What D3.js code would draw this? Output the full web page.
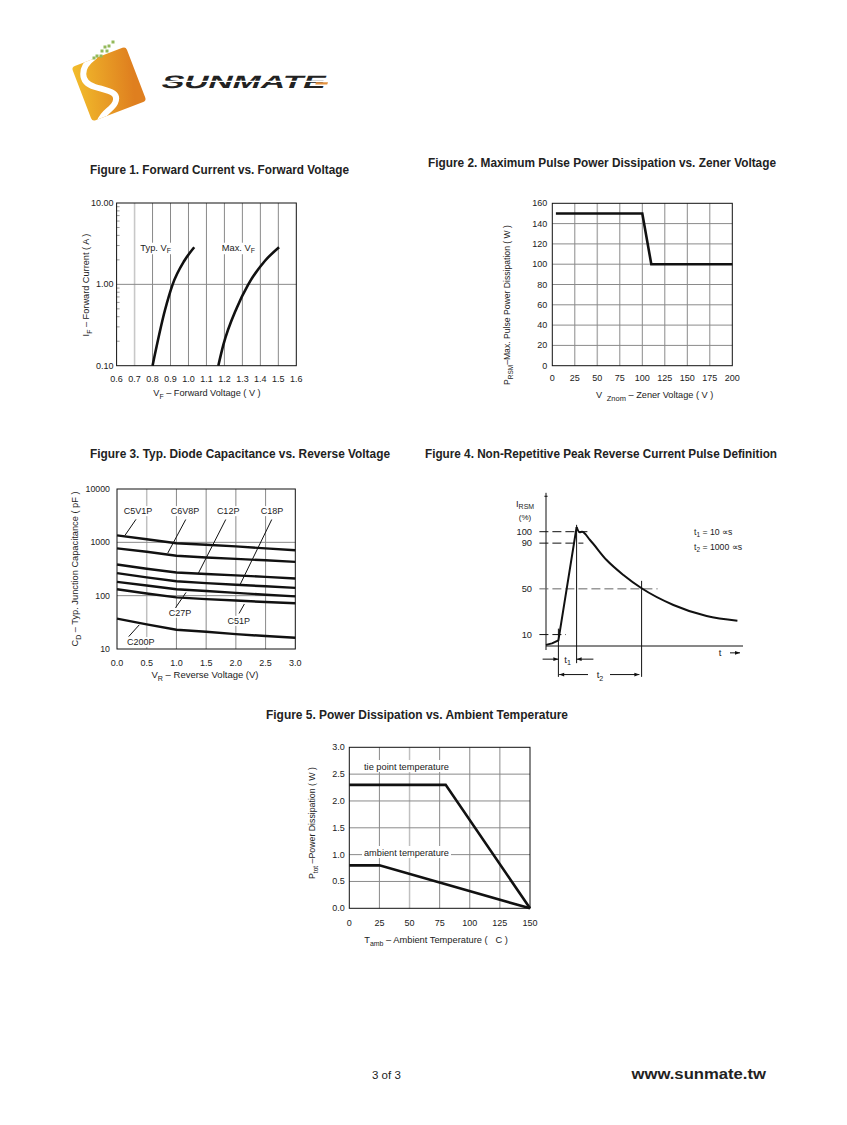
<!DOCTYPE html>
<html><head><meta charset="utf-8">
<script src="https://cdn.jsdelivr.net/npm/d3@7"></script>
<style>
body{margin:0;background:#fff}
svg{display:block}
text{font-family:"Liberation Sans",Arial,sans-serif;fill:#222}
</style>
</head><body>
<svg id="c" width="847" height="1125"></svg>
<script>
// ---------------- DATA ----------------
// Figure 1
const fig1XTicks = [0.6,0.7,0.8,0.9,1.0,1.1,1.2,1.3,1.4,1.5,1.6];
const fig1YTicks = [0.1,1,10];
const fig1YLabels = ["0.10","1.00","10.00"];
const fig1TypV = [0.80,0.869,0.912,0.977,1.032];
const fig1TypI = [0.10,0.48,1.00,1.95,2.86];
const fig1MaxV = [1.166,1.194,1.268,1.333,1.426,1.504];
const fig1MaxI = [0.10,0.18,0.51,1.00,1.95,2.86];
// Figure 2
const fig2XTicks = [0,25,50,75,100,125,150,175,200];
const fig2YTicks = [0,20,40,60,80,100,120,140,160];
const fig2V = [4,100,110,200];
const fig2P = [150,150,100,100];
// Figure 3
const fig3XTicks = [0.0,0.5,1.0,1.5,2.0,2.5,3.0];
const fig3YTicks = [10,100,1000,10000];
const fig3VR = [0.0,0.5,1.0,1.5,2.0,2.5,3.0];
const fig3C5V1P = [1350,1140,960,900,840,770,710];
const fig3C6V8P = [770,665,560,520,490,460,430];
const fig3C12P  = [385,320,272,255,240,225,210];
const fig3C18P  = [264,220,186,172,160,150,140];
const fig3C27P  = [181,155,132,122,113,104,97];
const fig3C51P  = [132,110,93,86,81,76,72];
const fig3C200P = [37,29,23,21,19,17.5,16.3];
const fig3Names = ["C5V1P","C6V8P","C12P","C18P","C27P","C51P","C200P"];
// label positions (VR, pF) and leader lines [VR1,C1,VR2,C2]
const fig3LabelVR = [0.354,1.145,1.87,2.61,1.06,2.05,0.40];
const fig3LabelC  = [3845,3845,3845,3845,47.8,33.7,13.5];
const fig3Leaders = [[0.32,2700,0.135,1355],[1.157,2680,0.854,628],[1.83,2680,1.369,264],
                     [2.604,2680,2.071,161],[0.976,57.5,1.162,115],[2.054,46.4,2.143,69.7],[0.197,17.1,0.375,28.4]];
// Figure 4 (time in arbitrary units, current in %)
const fig4Ticks = [100,90,50,10];
const fig4RiseT = [0,3,6.2,15.3];
const fig4RiseI = [1,2.3,5,104];
const fig4DecayT = [15.3,16.8,18,22,30.3,38.7,47.8,63.7,80.3,95.7];
const fig4DecayI = [104,99.5,100,92.7,75.2,62.1,50.5,35.9,26.2,22.1];
// Figure 5
const fig5XTicks = [0,25,50,75,100,125,150];
const fig5YTicks = [0,0.5,1.0,1.5,2.0,2.5,3.0];
const fig5TieT = [0,80,150];
const fig5TieP = [2.3,2.3,0];
const fig5AmbT = [0,25,150];
const fig5AmbP = [0.8,0.8,0];

// ---------------- DRAW ----------------
const svg = d3.select("#c");
svg.append("rect").attr("width",847).attr("height",1125).attr("fill","#fff");

function txt(g,x,y,s,opt={}){
  const t = g.append("text").attr("x",x).attr("y",y).text(s)
    .attr("font-size",opt.size||9).attr("text-anchor",opt.anchor||"start");
  if(opt.bold) t.attr("font-weight","bold");
  if(opt.len) t.attr("textLength",opt.len).attr("lengthAdjust","spacingAndGlyphs");
  if(opt.db) t.attr("dominant-baseline",opt.db);
  return t;
}
function subText(g,x,y,parts,opt={}){
  const t = g.append("text").attr("x",x).attr("y",y).attr("font-size",opt.size||9)
    .attr("text-anchor",opt.anchor||"middle");
  if(opt.rotate) t.attr("transform",`rotate(-90,${x},${y})`);
  if(opt.db) t.attr("dominant-baseline",opt.db);
  if(opt.len) t.attr("textLength",opt.len).attr("lengthAdjust","spacingAndGlyphs");
  let shifted=false;
  parts.forEach(([s,sub])=>{
    const ts = t.append("tspan").text(s);
    if(sub && !shifted){ts.attr("dy",2.5).attr("font-size",(opt.size||9)*0.75);shifted=true;}
    else if(sub){ts.attr("font-size",(opt.size||9)*0.75);}
    else if(!sub && shifted){ts.attr("dy",-2.5);shifted=false;}
  });
  return t;
}
function bg(g,t,pad){
  const b = t.node().getBBox();
  g.insert("rect",()=>t.node()).attr("x",b.x-pad).attr("y",b.y).attr("width",b.width+2*pad).attr("height",b.height).attr("fill","#fff");
}
function title(x,y,s,len){ txt(svg,x,y,s,{size:12,bold:true,len:len}); }

// ---------- Logo ----------
(function(){
  const g = svg.append("g");
  const defs = svg.append("defs");
  const gr = defs.append("linearGradient").attr("id","lg").attr("x1","0").attr("y1","0").attr("x2","1").attr("y2","0.3");
  gr.append("stop").attr("offset","0").attr("stop-color","#f2bd2c");
  gr.append("stop").attr("offset","1").attr("stop-color","#df7f1f");
  const sq = "translate(109,84) rotate(-21)";
  defs.append("clipPath").attr("id","lc").append("rect").attr("x",-29).attr("y",-29).attr("width",58).attr("height",58).attr("rx",3.5)
    .attr("transform",sq);
  g.append("rect").attr("x",-29).attr("y",-29).attr("width",58).attr("height",58).attr("rx",3.5)
    .attr("fill","url(#lg)").attr("transform",sq);
  g.append("path").attr("clip-path","url(#lc)")
    .attr("d","M94,57 C80,67 79,82 95,87 C108,91 120,92 115,103 C111,111 102,112 99,124")
    .attr("fill","none").attr("stroke","#fff").attr("stroke-width",6).attr("stroke-linecap","round");
  const dots=[[113,42],[109,46],[105,47],[102,51],[107,51],[97,56],[101,56],[94,58]];
  dots.forEach(d=>g.append("rect").attr("x",d[0]-1.5).attr("y",d[1]-1.5).attr("width",3).attr("height",3).attr("fill","#93b95a"));
  const tg = g.append("g").attr("transform","translate(160,88) skewX(-20)");
  tg.append("text").attr("x",0).attr("y",0).text("SUNMATE").attr("font-family","'DejaVu Sans',sans-serif")
    .attr("font-weight","bold").attr("font-size",18).attr("fill","#1a1a1a")
    .attr("textLength",164).attr("lengthAdjust","spacingAndGlyphs");
  g.append("line").attr("x1",158).attr("x2",330).attr("y1",81.3).attr("y2",81.3).attr("stroke","#fff").attr("stroke-width",1.3);
  g.append("path").attr("d","M316,82.2 L328,82.2 L327.2,84.5 L315.3,84.5Z").attr("fill","#e3913f");
})();

// ---------- Figure 1 ----------
title(90,174,"Figure  1. Forward Current vs. Forward Voltage",259);
(function(){
  const x = d3.scaleLinear([0.6,1.6],[116.6,296.3]);
  const y = d3.scaleLog([0.1,10],[365.7,203]);
  const g = svg.append("g");
  fig1XTicks.slice(1,-1).forEach(v=>{
    g.append("line").attr("x1",x(v)).attr("x2",x(v)).attr("y1",y(10)).attr("y2",y(0.1))
      .attr("stroke", v===0.7?"#c8c8c8":"#8a8a8a").attr("stroke-width",v===0.7?1.6:1);
  });
  g.append("line").attr("x1",x(0.6)).attr("x2",x(1.6)).attr("y1",y(1)).attr("y2",y(1)).attr("stroke","#8a8a8a");
  y.ticks().forEach(v=>{
    if([0.1,1,10].includes(+v.toFixed(3))) return;
    g.append("line").attr("x1",x(0.6)).attr("x2",x(0.6)+3).attr("y1",y(v)).attr("y2",y(v)).attr("stroke","#999");
  });
  g.append("rect").attr("x",x(0.6)).attr("y",y(10)).attr("width",x(1.6)-x(0.6)).attr("height",y(0.1)-y(10))
    .attr("fill","none").attr("stroke","#111");
  fig1YTicks.forEach((v,i)=>txt(g,x(0.6)-3,y(v),fig1YLabels[i],{anchor:"end",db:"central"}));
  fig1XTicks.forEach(v=>txt(g,x(v),378.5,d3.format(".1f")(v),{anchor:"middle",db:"central"}));
  const line = d3.line().x(d=>x(d[0])).y(d=>y(d[1])).curve(d3.curveMonotoneX);
  const l1 = subText(g,x(0.732),y(2.86)+3.5,[["Typ. V",false],["F",true]],{anchor:"start",size:9.3});
  const l2 = subText(g,x(1.185),y(2.86)+3.5,[["Max. V",false],["F",true]],{anchor:"start",size:9.3});
  bg(g,l1,2); bg(g,l2,2);
  g.append("path").attr("d",line(d3.zip(fig1TypV,fig1TypI))).attr("fill","none").attr("stroke","#111").attr("stroke-width",2.6);
  g.append("path").attr("d",line(d3.zip(fig1MaxV,fig1MaxI))).attr("fill","none").attr("stroke","#111").attr("stroke-width",2.6);
  subText(g,207,396,[["V",false],["F",true],[" – Forward Voltage ( V )",false]],{size:9.2});
  subText(g,86,285,[["I",false],["F",true],[" – Forward Current ( A )",false]],{rotate:true,db:"central",size:9.2});
})();

// ---------- Figure 2 ----------
title(428,167,"Figure  2. Maximum Pulse Power Dissipation vs. Zener Voltage",348);
(function(){
  const x = d3.scaleLinear([0,200],[552.3,732.3]);
  const y = d3.scaleLinear([0,160],[365.7,203.3]);
  const g = svg.append("g");
  fig2XTicks.slice(1,-1).forEach(v=>g.append("line").attr("x1",x(v)).attr("x2",x(v)).attr("y1",y(160)).attr("y2",y(0))
    .attr("stroke",v===50?"#b0b0b0":"#8a8a8a").attr("stroke-width",v===50?1.5:1));
  fig2YTicks.slice(1,-1).forEach(v=>g.append("line").attr("x1",x(0)).attr("x2",x(200)).attr("y1",y(v)).attr("y2",y(v)).attr("stroke","#8a8a8a"));
  g.append("rect").attr("x",x(0)).attr("y",y(160)).attr("width",x(200)-x(0)).attr("height",y(0)-y(160)).attr("fill","none").attr("stroke","#111");
  fig2YTicks.forEach(v=>txt(g,x(0)-5,y(v),String(v),{anchor:"end",db:"central"}));
  fig2XTicks.forEach(v=>txt(g,x(v),377.5,String(v),{anchor:"middle",db:"central"}));
  const line = d3.line().x(d=>x(d[0])).y(d=>y(d[1]));
  g.append("path").attr("d",line(d3.zip(fig2V,fig2P))).attr("fill","none").attr("stroke","#111").attr("stroke-width",2.6);
  const t = g.append("text").attr("x",596).attr("y",398).attr("font-size",9.2);
  t.append("tspan").text("V\u00a0");
  t.append("tspan").text("\u00a0Znom").attr("dy",2.5).attr("font-size",7.5);
  t.append("tspan").text(" – Zener Voltage ( V )").attr("dy",-2.5);
  subText(g,507,305,[["P",false],["RSM",true],["–Max. Pulse Power Dissipation ( W )",false]],{rotate:true,db:"central",len:160});
})();

// ---------- Figure 3 ----------
title(90,458,"Figure  3. Typ. Diode Capacitance vs. Reverse Voltage",300);
(function(){
  const x = d3.scaleLinear([0,3],[117,295.3]);
  const y = d3.scaleLog([10,10000],[649,489]);
  const g = svg.append("g");
  fig3XTicks.slice(1,-1).forEach(v=>g.append("line").attr("x1",x(v)).attr("x2",x(v)).attr("y1",y(10000)).attr("y2",y(10))
    .attr("stroke",v===0.5?"#c0c0c0":"#8a8a8a").attr("stroke-width",v===0.5?1.5:1));
  [100,1000].forEach(v=>g.append("line").attr("x1",x(0)).attr("x2",x(3)).attr("y1",y(v)).attr("y2",y(v)).attr("stroke","#8a8a8a"));
  g.append("rect").attr("x",x(0)).attr("y",y(10000)).attr("width",x(3)-x(0)).attr("height",y(10)-y(10000)).attr("fill","none").attr("stroke","#111");
  fig3YTicks.forEach(v=>txt(g,x(0)-7,y(v),String(v),{anchor:"end",db:"central",size:8.8}));
  fig3XTicks.forEach(v=>txt(g,x(v),662.5,d3.format(".1f")(v),{anchor:"middle",db:"central",size:9}));
  const series=[fig3C5V1P,fig3C6V8P,fig3C12P,fig3C18P,fig3C27P,fig3C51P,fig3C200P];
  const line = d3.line().x(d=>x(d[0])).y(d=>y(d[1]));
  series.forEach(s=>g.append("path").attr("d",line(d3.zip(fig3VR,s))).attr("fill","none").attr("stroke","#111").attr("stroke-width",2.4));
  fig3Leaders.forEach(l=>g.append("line").attr("x1",x(l[0])).attr("y1",y(l[1])).attr("x2",x(l[2])).attr("y2",y(l[3])).attr("stroke","#111").attr("stroke-width",1));
  fig3Names.forEach((n,i)=>{
    const c=fig3LabelC[i], vx=fig3LabelVR[i];
    const t = txt(g,x(vx),y(c),n,{anchor:"middle",db:"central",size:9});
    bg(g,t,1.5);
  });
  subText(g,205,678,[["V",false],["R",true],[" – Reverse Voltage (V)",false]],{size:9.5});
  subText(g,75,569,[["C",false],["D",true],[" – Typ. Junction Capacitance ( pF )",false]],{rotate:true,db:"central",size:9,len:155});
})();

// ---------- Figure 4 ----------
title(425,458,"Figure  4. Non-Repetitive Peak Reverse Current Pulse Definition",352);
(function(){
  const x = d3.scaleLinear([0,100],[546,746]);
  const y = d3.scaleLinear([0,100],[646,531.7]);
  const g = svg.append("g");
  const S="#111";
  g.append("line").attr("x1",x(0)).attr("x2",x(0)).attr("y1",y(-3.5)).attr("y2",y(134)).attr("stroke",S);
  g.append("line").attr("x1",x(-0.8)).attr("x2",x(0.8)).attr("y1",y(131)).attr("y2",y(131)).attr("stroke",S);
  g.append("line").attr("x1",x(0)).attr("x2",x(98.5)).attr("y1",y(0)).attr("y2",y(0)).attr("stroke",S);
  const dash=[[100,22],[90,18.7],[50,55.8],[10,10]];
  dash.forEach(d=>g.append("line").attr("x1",x(-3.3)).attr("x2",x(d[1])).attr("y1",y(d[0])).attr("y2",y(d[0]))
    .attr("stroke",d[0]===50?"#666":S).attr("stroke-dasharray","9,4"));
  fig4Ticks.forEach(v=>txt(g,x(-7),y(v),String(v),{anchor:"end",db:"central",size:9.3}));
  const vert=[[6.2,15.2,-27],[15.3,106,-15],[47.8,57,-27]];
  vert.forEach(v=>g.append("line").attr("x1",x(v[0])).attr("x2",x(v[0])).attr("y1",y(v[1])).attr("y2",y(v[2])).attr("stroke",S));
  const rise = d3.line().x(d=>x(d[0])).y(d=>y(d[1])).curve(d3.curveLinear);
  const decay = d3.line().x(d=>x(d[0])).y(d=>y(d[1])).curve(d3.curveMonotoneX);
  g.append("path").attr("d",rise(d3.zip(fig4RiseT,fig4RiseI))).attr("fill","none").attr("stroke",S).attr("stroke-width",2).attr("stroke-linejoin","round");
  g.append("path").attr("d",decay(d3.zip(fig4DecayT,fig4DecayI))).attr("fill","none").attr("stroke",S).attr("stroke-width",2);
  function arrow(t1,t2,v){
    g.append("line").attr("x1",x(t1)).attr("x2",x(t2)).attr("y1",y(v)).attr("y2",y(v)).attr("stroke",S);
    const dir = t2>t1?1:-1, tx=x(t2), ty=y(v);
    g.append("path").attr("d",`M${tx},${ty} L${tx-dir*5},${ty-1.8} L${tx-dir*5},${ty+1.8}Z`).attr("fill",S);
  }
  arrow(-1.7,6.2,-11.5); arrow(23.7,15.3,-11.5);
  arrow(21,6.6,-25); arrow(32,46.7,-25);
  arrow(92,97,-6);
  subText(g,x(10.8),y(-11.5)+3.5,[["t",false],["1",true]],{size:9.5});
  subText(g,x(27),y(-25)+3.5,[["t",false],["2",true]],{size:9.5});
  txt(g,x(87),y(-6)+3,"t",{anchor:"middle",size:9.5});
  subText(g,x(-15),y(122),[["I",false],["RSM",true]],{anchor:"start",size:9.3});
  txt(g,x(-10.5),y(113)+3,"(%)",{anchor:"middle",size:8});
  subText(g,x(74),y(100)+3,[["t",false],["1",true],[" = 10 ∝s",false]],{anchor:"start",size:8.7});
  subText(g,x(74),y(87)+3,[["t",false],["2",true],[" = 1000 ∝s",false]],{anchor:"start",size:8.7});
})();

// ---------- Figure 5 ----------
title(266,719,"Figure  5. Power Dissipation  vs. Ambient Temperature",302);
(function(){
  const x = d3.scaleLinear([0,150],[349.3,530]);
  const y = d3.scaleLinear([0,3],[908.3,747.3]);
  const g = svg.append("g");
  fig5XTicks.slice(1,-1).forEach(v=>g.append("line").attr("x1",x(v)).attr("x2",x(v)).attr("y1",y(3)).attr("y2",y(0))
    .attr("stroke",v===50?"#c0c0c0":"#8a8a8a").attr("stroke-width",v===50?1.5:1));
  fig5YTicks.slice(1,-1).forEach(v=>g.append("line").attr("x1",x(0)).attr("x2",x(150)).attr("y1",y(v)).attr("y2",y(v)).attr("stroke","#8a8a8a"));
  g.append("rect").attr("x",x(0)).attr("y",y(3)).attr("width",x(150)-x(0)).attr("height",y(0)-y(3)).attr("fill","none").attr("stroke","#111");
  fig5YTicks.forEach(v=>txt(g,x(0)-4.5,y(v),d3.format(".1f")(v),{anchor:"end",db:"central"}));
  fig5XTicks.forEach(v=>txt(g,x(v),922.5,String(v),{anchor:"middle",db:"central"}));
  const line = d3.line().x(d=>x(d[0])).y(d=>y(d[1]));
  g.append("path").attr("d",line(d3.zip(fig5TieT,fig5TieP))).attr("fill","none").attr("stroke","#111").attr("stroke-width",2.6);
  g.append("path").attr("d",line(d3.zip(fig5AmbT,fig5AmbP))).attr("fill","none").attr("stroke","#111").attr("stroke-width",2.6);
  g.append("rect").attr("x",362).attr("y",760).attr("width",89).attr("height",12).attr("fill","#fff");
  txt(g,364,770,"tie point temperature",{size:9.3,len:85});
  g.append("rect").attr("x",362).attr("y",846).attr("width",89).attr("height",12).attr("fill","#fff");
  txt(g,364,856,"ambient temperature",{size:9.3,len:85});
  subText(g,436,943,[["T",false],["amb",true],[" – Ambient Temperature (\u00a0\u00a0\u00a0C )",false]],{size:9.3});
  subText(g,312,823,[["P",false],["tot",true],[" –Power Dissipation ( W )",false]],{rotate:true,db:"central",size:9,len:112});
})();

// ---------- Footer ----------
txt(svg,372,1078.5,"3 of 3",{size:11.5});
txt(svg,631.5,1078.5,"www.sunmate.tw",{size:14,bold:true,len:134.5});
</script>
</body></html>
